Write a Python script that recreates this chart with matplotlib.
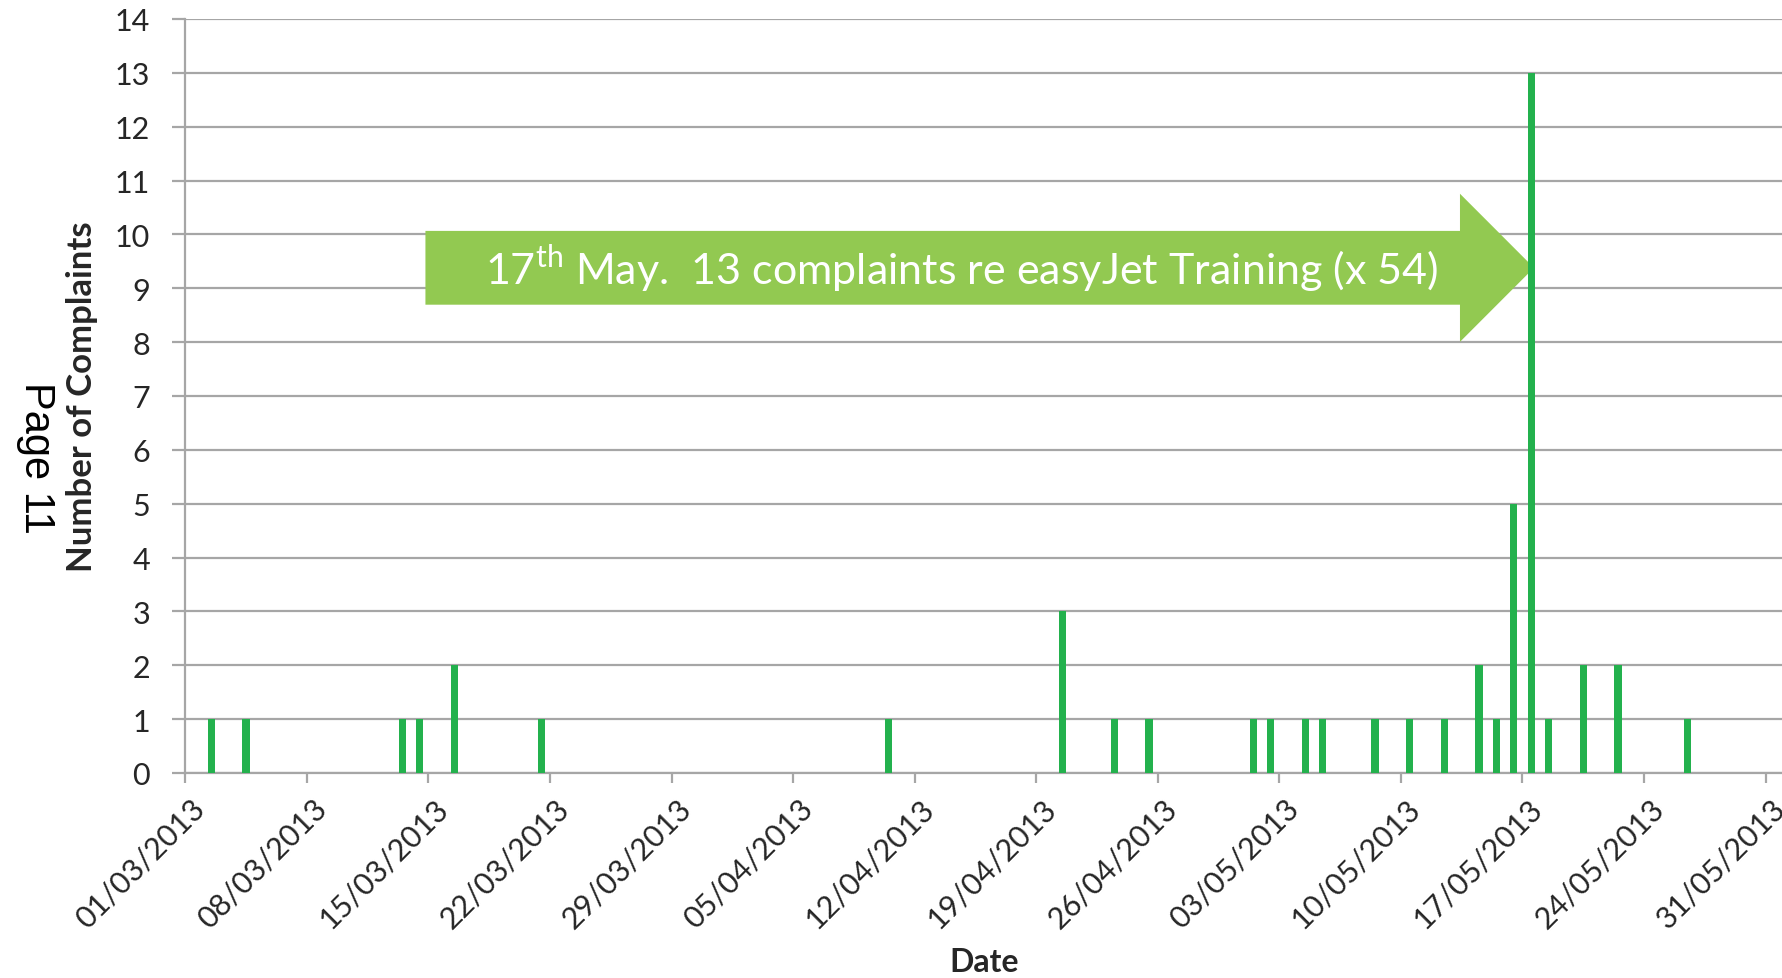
import datetime as dt
import matplotlib
matplotlib.use("Agg")
import matplotlib.pyplot as plt
import matplotlib.dates as mdates
import matplotlib.transforms as mtransforms
from matplotlib.patches import FancyArrow

plt.rcParams['font.family'] = ['Lato', 'DejaVu Sans']
plt.rcParams['mathtext.fontset'] = 'custom'
plt.rcParams['mathtext.rm'] = 'Lato'

# complaints per day (only days with complaints)
dates = ["02/03/2013", "04/03/2013", "13/03/2013", "14/03/2013", "16/03/2013",
         "21/03/2013", "10/04/2013", "20/04/2013", "23/04/2013", "25/04/2013",
         "01/05/2013", "02/05/2013", "04/05/2013", "05/05/2013", "08/05/2013",
         "10/05/2013", "12/05/2013", "14/05/2013", "15/05/2013", "16/05/2013",
         "17/05/2013", "18/05/2013", "20/05/2013", "22/05/2013", "26/05/2013"]
counts = [1, 1, 1, 1, 2,
          1, 1, 3, 1, 1,
          1, 1, 1, 1, 1,
          1, 1, 2, 1, 5,
          13, 1, 2, 2, 1]
start_date = "01/03/2013"
end_date = "01/06/2013"
note = r"17$^{\rm th}$ May.  13 complaints re easyJet Training (x 54)"

bar_col = "#23B14D"
arrow_col = "#92C951"
grid_col = "#A6A6A6"
text_col = "#262626"

def dnum(s):
    return mdates.date2num(dt.datetime.strptime(s, "%d/%m/%Y"))

x = [dnum(d) + 0.5 for d in dates]
x0 = dnum(start_date)
x1 = dnum(end_date)

fig = plt.figure(figsize=(17.83, 9.79), dpi=100)
ax = fig.add_axes([0.1039, 0.2094, 0.8961, 0.7702])

ax.bar(x, counts, width=0.42, color=bar_col, zorder=3)

ax.set_xlim(x0, x1)
ax.set_ylim(0, 14)
ax.set_yticks(range(0, 15))
ax.set_xticks([x0 + 7 * i for i in range(14)])
ax.xaxis.set_major_formatter(mdates.DateFormatter("%d/%m/%Y"))

ax.grid(axis='y', color=grid_col, linewidth=1.6, zorder=0)
for s in ['top', 'right']:
    ax.spines[s].set_visible(False)
for s in ['left', 'bottom']:
    ax.spines[s].set_color(grid_col)
    ax.spines[s].set_linewidth(1.6)

ax.tick_params(axis='y', length=9.4, width=1.6, color=grid_col, labelsize=22,
               labelcolor=text_col, pad=16)
ax.tick_params(axis='x', length=7.2, width=1.6, color=grid_col, labelsize=22,
               labelcolor=text_col, pad=6)
shift = mtransforms.ScaledTranslation(0.15, -0.12, fig.dpi_scale_trans)
for lab in ax.get_xticklabels():
    lab.set_rotation(45)
    lab.set_ha('right')
    lab.set_va('center')
    lab.set_rotation_mode('anchor')
    lab.set_transform(lab.get_transform() + shift)

ax.set_xlabel("Date", fontsize=23, fontweight='bold', color=text_col)
ax.xaxis.set_label_coords(0.5, -0.231)
ax.set_ylabel("Number of Complaints", fontsize=25, fontweight='bold', color=text_col)
ax.yaxis.set_label_coords(-0.0546, 0.5)

# annotation arrow pointing at the peak day
peak_x = x[counts.index(max(counts))]
tail_x = dnum("14/03/2013") + 0.83
arrow_y = 9.38
ax.add_patch(FancyArrow(tail_x, arrow_y, peak_x + 0.16 - tail_x, 0,
                        width=1.37, head_width=2.75, head_length=4.26,
                        length_includes_head=True, color=arrow_col,
                        linewidth=0, zorder=2))
ax.text(x0 + 44.7, arrow_y, note, color='white', fontsize=31,
        ha='center', va='center', zorder=4)

fig.text(0.0202, 0.532, "Page 11", rotation=270, fontsize=30,
         family='Liberation Sans', ha='center', va='center', color='black')

fig.savefig("out.png", dpi=100)
